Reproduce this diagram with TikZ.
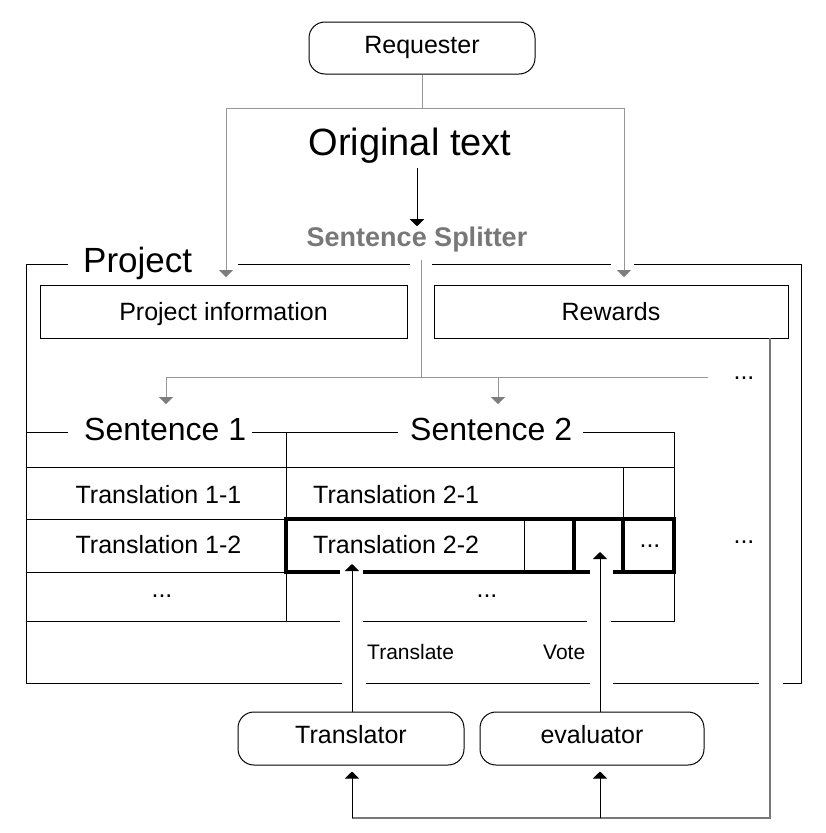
\documentclass[tikz,border=0pt]{standalone}
\usepackage{fontspec}
\setmainfont{Liberation Sans}
\usetikzlibrary{arrows.meta}
\definecolor{lgray}{RGB}{150,150,150}
\definecolor{agray}{RGB}{125,125,125}
\definecolor{sgray}{RGB}{120,120,120}
\definecolor{rgray}{RGB}{120,120,120}
\begin{document}
\begin{tikzpicture}[x=1pt,y=-1pt,
  box/.style={draw, line width=1pt, minimum height=53pt, inner sep=0pt,
    font=\fontsize{25}{30}\selectfont, text height=18pt, text depth=0pt},
  rbox/.style={box, rounded corners=16pt, text depth=8pt},
  frameln/.style={line width=1pt},
  thickln/.style={line width=3.2pt, line join=miter},
  conn/.style={draw=lgray, line width=1pt},
  garrow/.style={draw=lgray, line width=1pt, -{Triangle[width=14pt,length=7pt,color=agray]}},
  barrow/.style={draw=black, line width=1pt, -{Triangle[width=14pt,length=7pt]}},
  rline/.style={draw=rgray, line width=1.2pt},
  txt/.style={inner sep=0pt, font=\fontsize{25}{30}\selectfont},
  head/.style={inner sep=0pt, font=\fontsize{32}{38}\selectfont},
  small/.style={inner sep=0pt, font=\fontsize{21}{25}\selectfont}
]
\useasboundingbox (0,0) rectangle (825,833);

% ---- nodes ----
\node[rbox, minimum width=226pt, minimum height=52pt] (req) at (422,48) {Requester};
\node[anchor=base, inner sep=0pt, font=\fontsize{38}{44}\selectfont] (orig) at (410,155) {Original text};
\node[anchor=base, inner sep=0pt, font=\bfseries\fontsize{27}{32}\selectfont, text=sgray] (split) at (417,246) {Sentence Splitter};
\node[anchor=base west, inner sep=0pt, font=\fontsize{35}{40}\selectfont] (proj) at (83,272) {Project};
\node[box, minimum width=367pt] (pinfo) at (223.5,311.5) {Project information};
\node[box, minimum width=354pt] (rew) at (611,311.5) {Rewards};

\node[head, anchor=base west] (s1) at (84,440) {Sentence 1};
\node[head, anchor=base west] (s2) at (410,440) {Sentence 2};

\node[txt, anchor=base] (t11) at (158.5,503) {Translation 1-1};
\node[txt, anchor=base west] (t21) at (313,503) {Translation 2-1};
\node[txt, anchor=base] (t12) at (158.5,553) {Translation 1-2};
\node[txt, anchor=base west] (t22) at (313,553) {Translation 2-2};
\node[txt, anchor=base] (d1) at (162,597) {...};
\node[txt, anchor=base] (d2) at (487,597) {...};
\node[txt, anchor=base] (d3) at (650,547) {...};
\node[txt, anchor=base] (d4) at (744,543) {...};
\node[txt, anchor=base] (d5) at (744,379) {...};

\node[small, anchor=base west] (ltr) at (367,659) {Translate};
\node[small, anchor=base west] (lvo) at (543,659) {Vote};

\node[rbox, minimum width=226pt, minimum height=53pt] (trans) at (351,738.5) {Translator};
\node[rbox, minimum width=224pt, minimum height=53pt] (eval) at (592,738.5) {evaluator};

% ---- coordinates ----
\coordinate (bl) at (226,108);
\coordinate (br) at (624,108);
\coordinate (tl) at (226,277);
\coordinate (tr) at (624,277);
\coordinate (sp0) at (421,260);
\coordinate (sp1) at (421,377);
\coordinate (spl) at (166,377);
\coordinate (spm) at (498,377);
\coordinate (spr) at (708,377);
\coordinate (s1a) at (166,404);
\coordinate (s2a) at (498,404);
\coordinate (rw0) at (770,338);
\coordinate (rw1) at (770,818);
\coordinate (bt) at (352,818);
\coordinate (bv) at (600,818);
\coordinate (ta) at (352,564);
\coordinate (va) at (600,552);
\coordinate (tb) at (352,712);
\coordinate (vb) at (600,712);

% ---- connectors ----
\draw[conn] (req.south) -- (req.south |- bl);
\draw[garrow] (req.south |- bl) -- (bl) -- (tl);
\draw[garrow] (req.south |- br) -- (br) -- (tr);
\draw[barrow, shorten <=5pt] (orig.south -| split.north) -- (split.north);
\draw[conn] (sp0) -- (sp1);
\draw[conn] (spl) -- (spr);
\draw[garrow] (spl) -- (s1a);
\draw[garrow] (spm) -- (s2a);
\draw[rline] (rw0) -- (rw1) -- (bt);
\draw[barrow, shorten >=6pt] (bt) -- (bt |- trans.south);
\draw[barrow, shorten >=6pt] (bv) -- (bv |- eval.south);
\draw[barrow] (tb) -- (ta);
\draw[barrow] (vb) -- (va);

% ---- project frame ----
\draw[frameln] (68,264) -- (26,264) -- (26,683) -- (342,683);
\draw[frameln] (366,683) -- (590,683);
\draw[frameln] (613,683) -- (759,683);
\draw[frameln] (783,683) -- (801,683) -- (801,264) -- (634,264);
\draw[frameln] (611,264) -- (432,264);
\draw[frameln] (410,264) -- (238,264);

% ---- sentence table ----
\draw[frameln] (26,432) -- (68,432);
\draw[frameln] (252,432) -- (398,432);
\draw[frameln] (583,432) -- (674,432) -- (674,519);
\draw[frameln] (286,432) -- (286,621);
\draw[frameln] (26,467) -- (674,467);
\draw[frameln] (26,519) -- (286,519);
\draw[frameln] (26,572) -- (286,572);
\draw[frameln] (26,621) -- (340,621);
\draw[frameln] (363,621) -- (587,621);
\draw[frameln] (611,621) -- (674,621) -- (674,572);
\draw[frameln] (623,467) -- (623,519);
\draw[frameln] (524,519) -- (524,572);
\draw[thickln] (340,572) -- (286,572) -- (286,519) -- (674,519) -- (674,572) -- (613,572);
\draw[thickln] (363,572) -- (590,572);
\draw[thickln] (574,519) -- (574,572);
\draw[thickln] (623,519) -- (623,572);
\end{tikzpicture}
\end{document}
